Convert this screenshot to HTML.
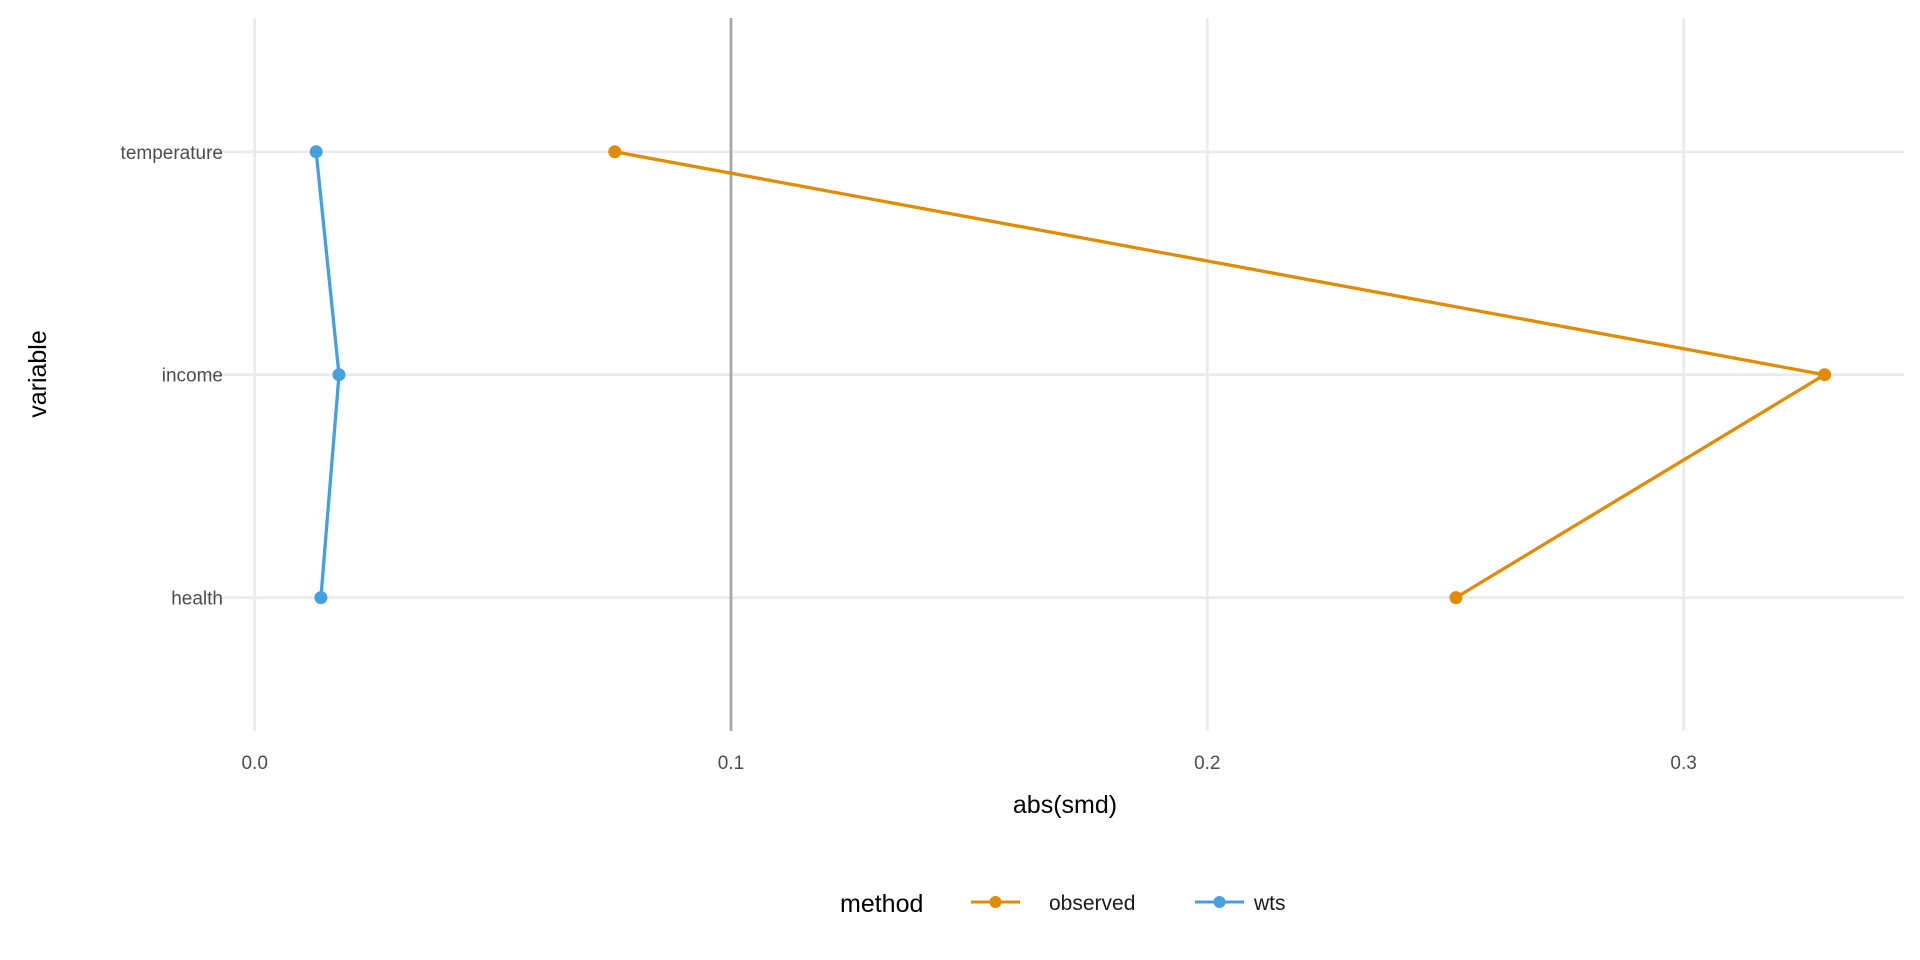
<!DOCTYPE html>
<html><head><meta charset="utf-8"><style>
html,body{margin:0;padding:0;background:#fff;}
svg{display:block;font-family:"Liberation Sans",Arial,sans-serif;}
</style></head><body>
<svg id="chart" width="1920" height="960" viewBox="0 0 1920 960">
<g id="grid"></g>
<g id="marks"></g>
<g id="axes"></g>
<text x="1065" y="813" font-size="25" text-anchor="middle" fill="#000">abs(smd)</text>
<text transform="translate(46,374) rotate(-90)" font-size="25" text-anchor="middle" fill="#000">variable</text>
<g>
<text x="840" y="912" font-size="25" fill="#000">method</text>
<g>
<line x1="971" y1="902" x2="1020" y2="902" stroke="#E08B00" stroke-width="3"/>
<circle cx="995.5" cy="902" r="6" fill="#E08B00"/>
<text x="1049" y="910" font-size="21" fill="#1a1a1a">observed</text>
</g>
<g>
<line x1="1195" y1="902" x2="1244" y2="902" stroke="#45A0E0" stroke-width="3"/>
<circle cx="1219.5" cy="902" r="6" fill="#45A0E0"/>
<text x="1254" y="910" font-size="21" fill="#1a1a1a">wts</text>
</g>
</g>
</svg>
<script>
const categories = ["temperature","income","health"];
const observedValues = [0.0756, 0.3296, 0.2522];
const wtsValues = [0.0129, 0.0177, 0.0139];
const xTicks = [0.0, 0.1, 0.2, 0.3];
const xTickLabels = ["0.0","0.1","0.2","0.3"];
const threshold = 0.1;

const NS="http://www.w3.org/2000/svg";
const pLeft=207, pRight=1904, pTop=18, pBottom=731;
const xScale=v=>254.7+v*4763;
const yScale=i=>151.8+i*222.9;
function mk(tag,attrs,parent){const e=document.createElementNS(NS,tag);for(const k in attrs)e.setAttribute(k,attrs[k]);parent.appendChild(e);return e;}
const grid=document.getElementById('grid'),marks=document.getElementById('marks'),axes=document.getElementById('axes');
xTicks.forEach((t,i)=>{
  const g=mk('line',{x1:xScale(t),x2:xScale(t),y1:pTop,y2:pBottom,stroke:'#ebebeb','stroke-width':2.7},grid);
  
  
  const lb=mk('text',{x:xScale(t),y:769,'font-size':19,'text-anchor':'middle',fill:'#4d4d4d'},axes);
  lb.textContent=xTickLabels[i];
  
  
});
categories.forEach((c,i)=>{
  const g=mk('line',{x1:pLeft,x2:pRight,y1:yScale(i),y2:yScale(i),stroke:'#ebebeb','stroke-width':2.7},grid);
  
  
  const tk=mk('line',{x1:241,x2:252,y1:yScale(i),y2:yScale(i),stroke:'#ebebeb','stroke-width':2.7},axes);
  
  
  const lb=mk('text',{x:223,y:yScale(i)+7,'font-size':19,'text-anchor':'end',fill:'#4d4d4d'},axes);
  lb.textContent=c;
  
  
});
const th=mk('line',{x1:xScale(threshold),x2:xScale(threshold),y1:pTop,y2:pBottom,stroke:'#a6a6a6','stroke-width':2.7},grid);


function series(vals,color,name){
  const p=mk('polyline',{points:vals.map((v,i)=>xScale(v)+','+yScale(i)).join(' '),fill:'none',stroke:color,'stroke-width':3.3},marks);
  
  
  vals.forEach((v,i)=>{
    const c=mk('circle',{cx:xScale(v),cy:yScale(i),r:6.5,fill:color},marks);
    
    
  });
}
series(observedValues,'#E08B00','observed');
series(wtsValues,'#45A0E0','wts');
</script>
</body></html>
